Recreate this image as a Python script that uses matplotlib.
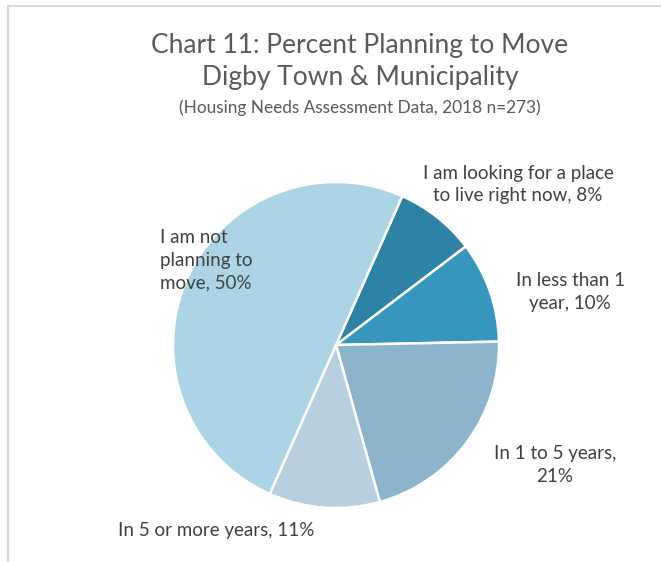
import matplotlib
matplotlib.use("Agg")
import matplotlib.pyplot as plt
from matplotlib.lines import Line2D

labels = ["I am looking for a place\nto live right now, 8%",
          "In less than 1\nyear, 10%",
          "In 1 to 5 years,\n21%",
          "In 5 or more years, 11%",
          "I am not\nplanning to\nmove, 50%"]
values = [8, 10, 21, 11, 50]
colors = ["#2E82A5", "#3696BD", "#8DB4CD", "#B8CFDF", "#ABD5E6"]
# label spots, in pie radius units
label_xy = [(1.117, 0.985), (1.436, 0.325), (1.344, -0.736), (-0.736, -1.141), (-1.08, 0.521)]
label_ha = ["center", "center", "center", "center", "left"]

plt.rcParams['font.family'] = ['Lato', 'DejaVu Sans']

fig = plt.figure(figsize=(6.61, 5.62), dpi=100)
ax = fig.add_axes([0, 0, 1, 1])
ax.pie(values, colors=colors, startangle=66, counterclock=False, radius=1,
       wedgeprops=dict(edgecolor="white", linewidth=1.8))
ax.set_xlim(-336/163, 325/163)
ax.set_ylim(-217/163, 345/163)
ax.set_aspect("auto")
ax.axis("off")

for lab, (x, y), ha in zip(labels, label_xy, label_ha):
    ax.text(x, y, lab, ha=ha, va="center", fontsize=13.5, color="#404040",
            linespacing=1.4, multialignment=ha)

fig.text(360/661, 1-45/562, "Chart 11: Percent Planning to Move", ha="center", va="center",
         fontsize=19, color="#595959")
fig.text(360/661, 1-78/562, "Digby Town & Municipality", ha="center", va="center",
         fontsize=19, color="#595959")
fig.text(360/661, 1-108/562, "(Housing Needs Assessment Data, 2018 n=273)", ha="center",
         va="center", fontsize=12.4, color="#595959")

# chart border (cropped)
fig.add_artist(Line2D([8/661, 1], [1-5.5/562, 1-5.5/562], color="#D9D9D9", lw=1.5))
fig.add_artist(Line2D([8/661, 8/661], [0, 1-5.5/562], color="#D9D9D9", lw=1.5))

fig.savefig("out.png", dpi=100)
